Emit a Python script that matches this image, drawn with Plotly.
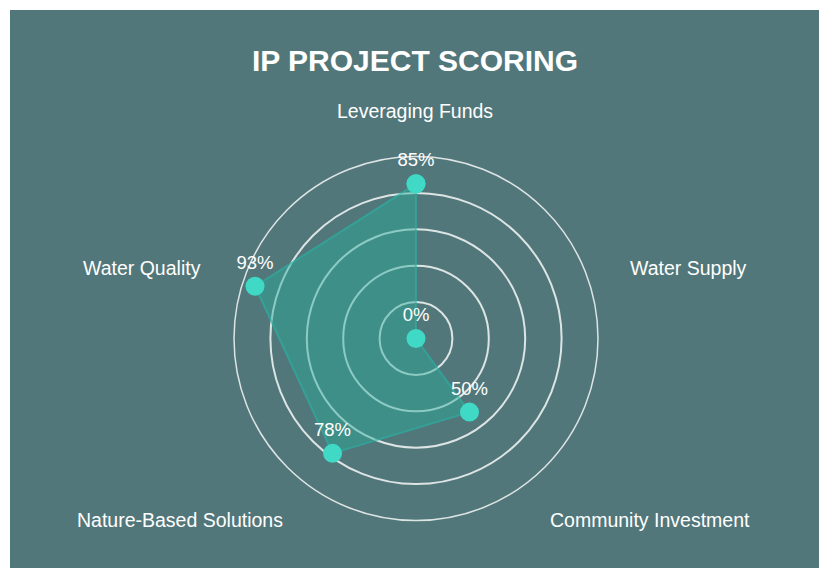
import plotly.graph_objects as go

categories = ["Leveraging Funds", "Water Supply", "Community Investment",
              "Nature-Based Solutions", "Water Quality"]
scores = [85, 0, 50, 78, 93]
value_labels = [f"{v}%" for v in scores]
ring_values = [20, 40, 60, 80]

PAGE_W, PAGE_H = 827, 568
OFF = 8  # page body margin offset in the screenshot
W, H = PAGE_W - OFF, PAGE_H - OFF
cx, cy, R = 416 - OFF, 338.5 - OFF, 182

fig = go.Figure()
fig.add_trace(go.Scatterpolar(
    r=scores + scores[:1],
    theta=categories + categories[:1],
    mode="lines+markers+text",
    text=value_labels + [""],
    textposition="top center",
    textfont=dict(color="white", size=18.5, family="Liberation Sans"),
    fill="toself",
    fillcolor="rgba(40,172,156,0.45)",
    line=dict(color="rgba(40,180,165,0.6)", width=2),
    marker=dict(color="#3fd9c6", size=19),
    hoverinfo="skip",
    cliponaxis=False,
))

# category label positions (pixel centres)
label_pos = [(415, 111), (688, 268), (650, 520), (180, 520), (142, 268)]
annotations = []
for name, (px, py) in zip(categories, label_pos):
    annotations.append(dict(
        text=name, x=(px - OFF) / W, y=1 - (py - OFF) / H,
        xref="paper", yref="paper",
        showarrow=False, xanchor="center", yanchor="middle",
        font=dict(color="white", size=19.5, family="Liberation Sans"),
    ))

fig.update_layout(
    width=W, height=H,
    margin=dict(l=0, r=0, t=0, b=0),
    paper_bgcolor="#52777a",
    showlegend=False,
    title=dict(text="<b>IP PROJECT SCORING</b>", x=(415 - OFF) / W,
               xanchor="center", y=1 - (60 - OFF) / H, yanchor="middle",
               font=dict(color="white", size=30, family="Liberation Sans")),
    shapes=[
        dict(type="rect", xref="paper", yref="paper",
             x0=0, x1=2 / W, y0=0, y1=1,
             fillcolor="white", line=dict(width=0), layer="below"),
        dict(type="rect", xref="paper", yref="paper",
             x0=0, x1=1, y0=1 - 2 / H, y1=1,
             fillcolor="white", line=dict(width=0), layer="below"),
    ],
    annotations=annotations,
    polar=dict(
        domain=dict(x=[(cx - R) / W, (cx + R) / W],
                    y=[(H - cy - R) / H, (H - cy + R) / H]),
        bgcolor="rgba(0,0,0,0)",
        radialaxis=dict(range=[0, 100], tickvals=ring_values,
                        showticklabels=False, ticks="", showline=False,
                        gridcolor="rgba(255,255,255,0.8)", gridwidth=1.5),
        angularaxis=dict(direction="clockwise", rotation=90,
                         showticklabels=False, ticks="", showgrid=False,
                         showline=True, linecolor="rgba(255,255,255,0.8)",
                         linewidth=1.5),
    ),
)

fig.write_html("out.html")
